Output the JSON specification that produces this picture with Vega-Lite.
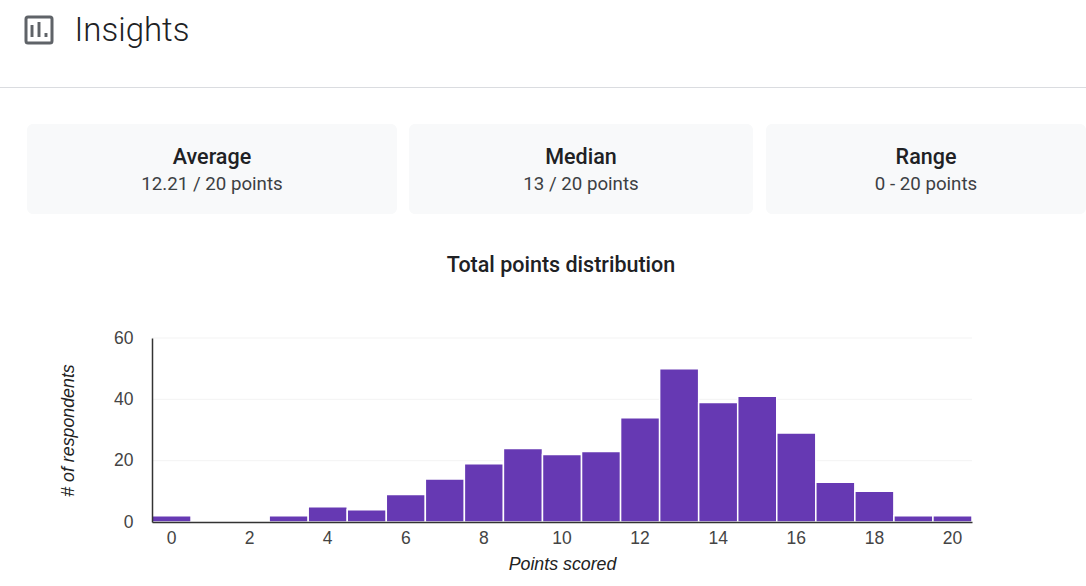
{
  "$schema": "https://vega.github.io/schema/vega-lite/v6.json",
  "description": "Google Forms quiz insights: summary cards and total points distribution.",
  "padding": 0,
  "background": "white",
  "spacing": 0,
  "bounds": "flush",
  "vconcat": [
    {"data": {"values": []}, "mark": "rect", "width": 1086, "height": 17},
    {
      "spacing": 0,
      "bounds": "flush",
      "hconcat": [
        {"data": {"values": []}, "mark": "rect", "width": 26, "height": 26},
        {
          "width": 26,
          "height": 26,
          "view": {"stroke": "#5f6368", "strokeWidth": 3, "cornerRadius": 2},
          "data": {"values": [{"pos": "a", "h": 12}, {"pos": "b", "h": 15}, {"pos": "c", "h": 4}]},
          "mark": {"type": "bar", "color": "#5f6368"},
          "encoding": {
            "x": {"field": "pos", "type": "nominal", "axis": null, "scale": {"type": "band", "paddingInner": 0.58, "paddingOuter": 0.65}},
            "y": {"field": "h", "type": "quantitative", "axis": null, "scale": {"domain": [-6, 20], "nice": false}}
          }
        },
        {"data": {"values": []}, "mark": "rect", "width": 23, "height": 26},
        {
          "width": 114,
          "height": 26,
          "data": {"values": [{"label": "Insights"}]},
          "mark": {"type": "text", "font": "Roboto", "fontWeight": 300, "fontSize": 33, "color": "#202124", "dy": 1},
          "encoding": {"text": {"field": "label"}}
        }
      ]
    },
    {"data": {"values": []}, "mark": "rect", "width": 1086, "height": 70},
    {"data": {"values": []}, "mark": "rect", "width": 1086, "height": 1, "view": {"fill": "#dadce0"}},
    {"data": {"values": []}, "mark": "rect", "width": 1086, "height": 36},
    {
      "spacing": 0,
      "bounds": "flush",
      "hconcat": [
        {"data": {"values": []}, "mark": "rect", "width": 27, "height": 90},
        {
          "width": 370,
          "height": 90,
          "view": {"fill": "#f8f9fa", "cornerRadius": 6},
          "data": {"values": [{"name": "Average", "value": "12.21 / 20 points"}]},
          "layer": [
            {"mark": {"type": "text", "font": "Roboto", "fontWeight": 500, "fontSize": 21.5, "color": "#202124", "dy": -11}, "encoding": {"text": {"field": "name"}}},
            {"mark": {"type": "text", "font": "Roboto", "fontSize": 18.7, "color": "#3c4043", "dy": 15}, "encoding": {"text": {"field": "value"}}}
          ]
        },
        {"data": {"values": []}, "mark": "rect", "width": 12, "height": 90},
        {
          "width": 344,
          "height": 90,
          "view": {"fill": "#f8f9fa", "cornerRadius": 6},
          "data": {"values": [{"name": "Median", "value": "13 / 20 points"}]},
          "layer": [
            {"mark": {"type": "text", "font": "Roboto", "fontWeight": 500, "fontSize": 21.5, "color": "#202124", "dy": -11}, "encoding": {"text": {"field": "name"}}},
            {"mark": {"type": "text", "font": "Roboto", "fontSize": 18.7, "color": "#3c4043", "dy": 15}, "encoding": {"text": {"field": "value"}}}
          ]
        },
        {"data": {"values": []}, "mark": "rect", "width": 13, "height": 90},
        {
          "width": 320,
          "height": 90,
          "view": {"fill": "#f8f9fa", "cornerRadius": 6},
          "data": {"values": [{"name": "Range", "value": "0 - 20 points"}]},
          "layer": [
            {"mark": {"type": "text", "font": "Roboto", "fontWeight": 500, "fontSize": 21.5, "color": "#202124", "dy": -11}, "encoding": {"text": {"field": "name"}}},
            {"mark": {"type": "text", "font": "Roboto", "fontSize": 18.7, "color": "#3c4043", "dy": 15}, "encoding": {"text": {"field": "value"}}}
          ]
        }
      ]
    },
    {"data": {"values": []}, "mark": "rect", "width": 1086, "height": 214},
    {
      "spacing": 0,
      "bounds": "flush",
      "hconcat": [
        {"data": {"values": []}, "mark": "rect", "width": 152, "height": 184},
        {
          "width": 820,
          "height": 184,
          "title": {
            "text": "Total points distribution",
            "font": "Roboto",
            "fontWeight": 500,
            "fontSize": 21.5,
            "color": "#202124",
            "anchor": "middle",
            "dx": -1,
            "offset": 53
          },
          "layer": [
            {
              "data": {"values": [{"gridline": 20}, {"gridline": 40}, {"gridline": 60}]},
              "mark": {"type": "rule", "color": "#f3f3f3"},
              "encoding": {"y": {"field": "gridline", "type": "quantitative"}}
            },
            {
              "data": {
                "values": [
                  {"points": 0, "respondents": 2},
                  {"points": 1, "respondents": 0},
                  {"points": 2, "respondents": 0},
                  {"points": 3, "respondents": 2},
                  {"points": 4, "respondents": 5},
                  {"points": 5, "respondents": 4},
                  {"points": 6, "respondents": 9},
                  {"points": 7, "respondents": 14},
                  {"points": 8, "respondents": 19},
                  {"points": 9, "respondents": 24},
                  {"points": 10, "respondents": 22},
                  {"points": 11, "respondents": 23},
                  {"points": 12, "respondents": 34},
                  {"points": 13, "respondents": 50},
                  {"points": 14, "respondents": 39},
                  {"points": 15, "respondents": 41},
                  {"points": 16, "respondents": 29},
                  {"points": 17, "respondents": 13},
                  {"points": 18, "respondents": 10},
                  {"points": 19, "respondents": 2},
                  {"points": 20, "respondents": 2}
                ]
              },
              "mark": {"type": "bar", "color": "#6639b3", "stroke": "white", "strokeWidth": 1.5},
              "encoding": {
                "x": {
                  "field": "points",
                  "type": "ordinal",
                  "title": "Points scored",
                  "scale": {"paddingInner": 0, "paddingOuter": 0},
                  "axis": {
                    "labelExpr": "datum.value % 2 == 0 ? datum.label : ''",
                    "labelAngle": 0,
                    "labelOverlap": false,
                    "ticks": false,
                    "labelPadding": 7,
                    "labelFont": "Liberation Sans",
                    "labelFontSize": 17.5,
                    "labelColor": "#444444",
                    "domainColor": "#333333",
                    "domainWidth": 1.5,
                    "titleFont": "Liberation Sans",
                    "titleFontSize": 17.8,
                    "titleFontStyle": "italic",
                    "titleFontWeight": "normal",
                    "titleColor": "#222222",
                    "titlePadding": 9,
                    "zindex": 1
                  }
                },
                "y": {
                  "field": "respondents",
                  "type": "quantitative",
                  "title": "# of respondents",
                  "scale": {"domain": [0, 60]},
                  "axis": {
                    "values": [0, 20, 40, 60],
                    "grid": false,
                    "ticks": false,
                    "labelPadding": 19,
                    "labelFont": "Liberation Sans",
                    "labelFontSize": 17.5,
                    "labelColor": "#444444",
                    "domainColor": "#333333",
                    "domainWidth": 1.5,
                    "titleFont": "Liberation Sans",
                    "titleFontSize": 17.8,
                    "titleFontStyle": "italic",
                    "titleFontWeight": "normal",
                    "titleColor": "#222222",
                    "titlePadding": 36,
                    "zindex": 1
                  }
                }
              }
            }
          ]
        }
      ]
    }
  ],
  "config": {"view": {"stroke": null}}
}
